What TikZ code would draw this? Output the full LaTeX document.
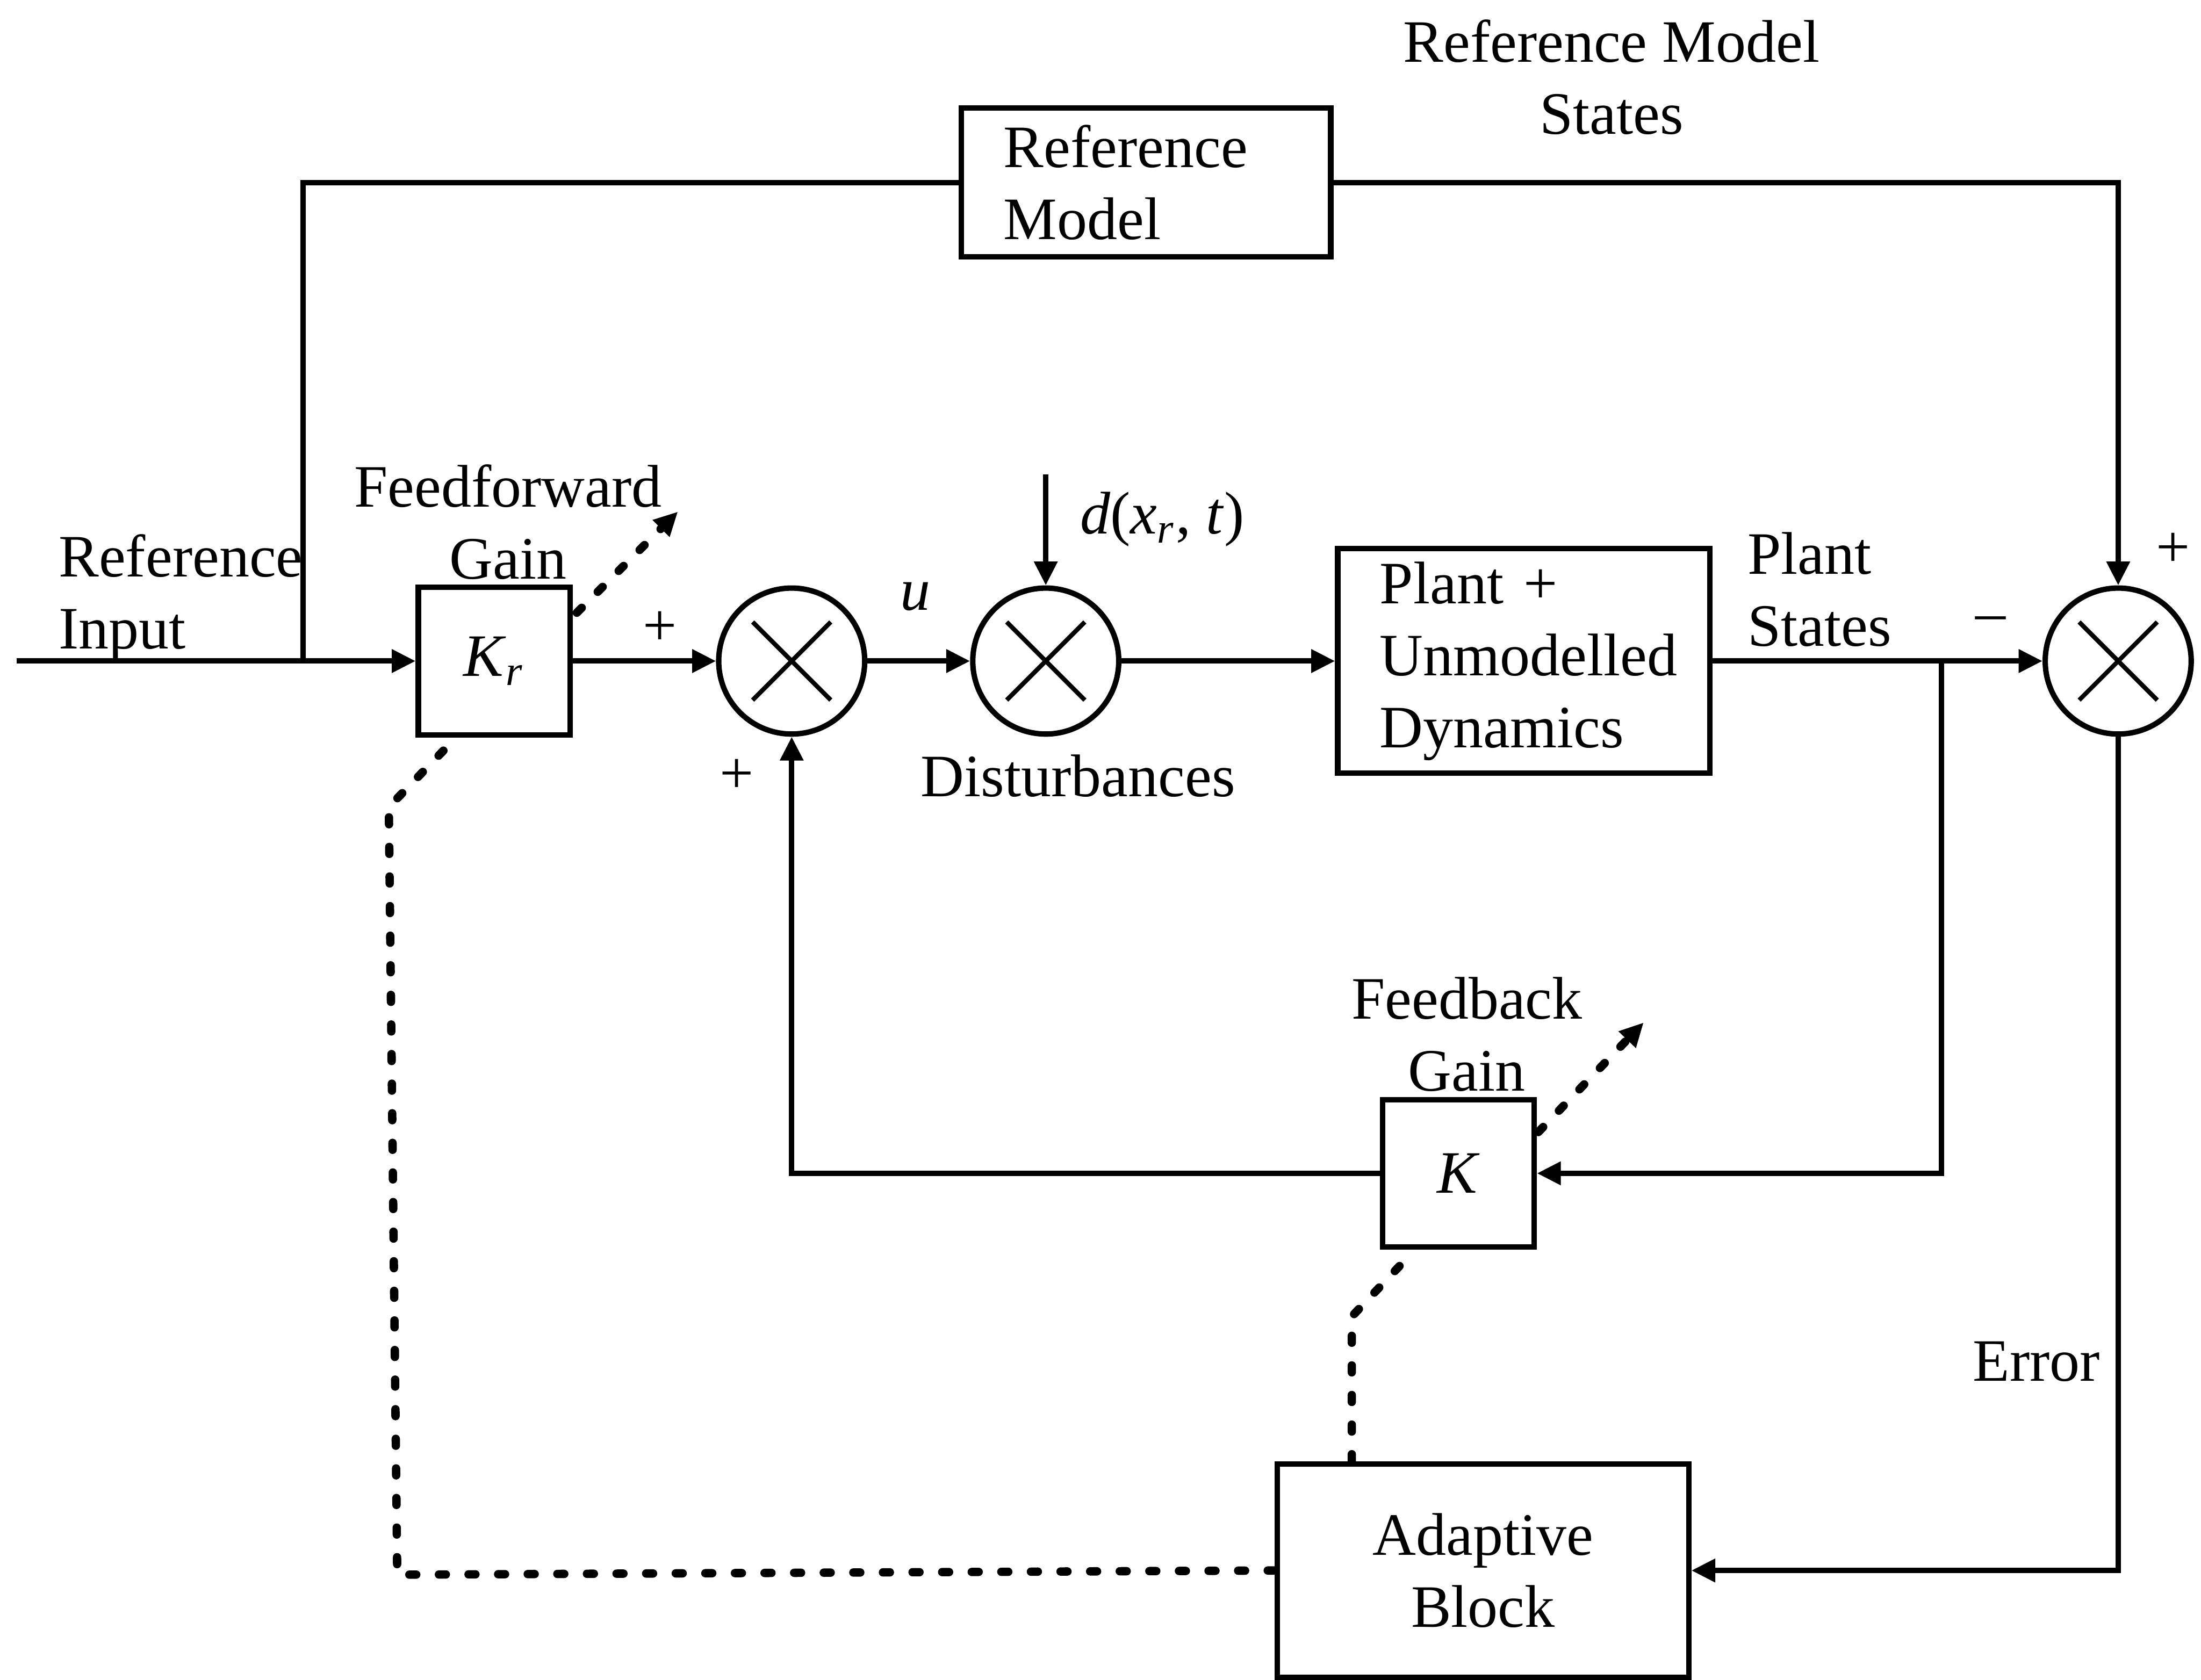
\documentclass[tikz,border=0pt]{standalone}
\usepackage{fontspec}
\setmainfont{Liberation Serif}
\usetikzlibrary{arrows.meta,calc}

\begin{document}
\begin{tikzpicture}[>={Triangle[length=1.7mm,width=1.6mm]}, line width=1.1pt,
    font=\fontsize{12.2}{14.6}\selectfont,
    block/.style={draw, line width=1.1pt, inner sep=0pt},
    sum/.style={draw, circle, line width=1.1pt, minimum size=1.04cm, inner sep=0pt},
    tune/.style={line width=1.7pt, dash pattern=on 1.4pt off 4.6pt, line cap=round},
    lbl/.style={inner sep=0pt}]
    \useasboundingbox (0,0) rectangle (15.68,-11.97);

    % blocks
    \node[block, minimum width=2.63cm, minimum height=1.06cm, text width=2.03cm, align=left] (refm) at (8.165,-1.30) {Reference\\Model};
    \node[block, minimum width=1.08cm, minimum height=1.05cm] (kr) at (3.52,-4.71) {\textit{K}\textsubscript{\textit{r}}};
    \node[block, minimum width=2.65cm, minimum height=1.60cm, text width=2.05cm, align=left] (plant) at (10.855,-4.71) {Plant +\\Unmodelled\\Dynamics};
    \node[block, minimum width=1.08cm, minimum height=1.05cm] (k) at (10.39,-8.36) {\textit{K}};
    \node[block, minimum width=2.93cm, minimum height=1.52cm, align=center] (adapt) at (10.565,-11.19) {Adaptive\\Block};

    % summing junctions
    \node[sum] (s1) at (5.64,-4.71) {};
    \node[sum] (s2) at (7.45,-4.71) {};
    \node[sum] (s3) at (15.09,-4.71) {};
    \foreach \s in {s1,s2,s3} {
        \draw[line width=0.9pt] ($(\s.center)!0.73!(\s.north west)$) -- ($(\s.center)!0.73!(\s.south east)$);
        \draw[line width=0.9pt] ($(\s.center)!0.73!(\s.north east)$) -- ($(\s.center)!0.73!(\s.south west)$);
    }

    % free ends and branch points
    \coordinate (in) at (0.12,-4.71);
    \coordinate (br) at (2.16,-4.71);
    \coordinate (dist) at (7.45,-3.38);
    \coordinate (pb) at (13.83,-4.71);

    % signal lines
    \draw[->] (in) -- (kr.west);
    \draw (br) |- (refm.west);
    \draw[->] (refm.east) -| (s3.north);
    \draw[->] (kr.east) -- (s1.west);
    \draw[->] (s1.east) -- (s2.west);
    \draw[->] (dist) -- (s2.north);
    \draw[->] (s2.east) -- (plant.west);
    \draw[->] (plant.east) -- (s3.west);
    \draw[->] (pb) |- (k.east);
    \draw[->] (k.west) -| (s1.south);
    \draw[->] (s3.south) |- (adapt.east);

    % adaptation paths
    \draw[tune] ([xshift=-0.935cm]adapt.north) -- ++(0,1.03) -- ([xshift=-0.31cm]k.south);
    \draw[tune] (adapt.west) -- (2.83,-11.22) -- (2.77,-5.75) -- ([xshift=-0.27cm]kr.south);
    \draw[tune, ->] ([shift={(0.03,-0.2)}]kr.north east) -- ++(0.72,0.72);
    \draw[tune, ->] ([shift={(0.01,-0.25)}]k.north east) -- ++(0.75,0.78);

    % labels
    \node[lbl, align=center] (rmstates) at (11.48,-0.55) {Reference Model\\States};
    \node[lbl, anchor=west, align=left] (refin) at (0.40,-4.26) {Reference\\Input};
    \node[lbl, align=center] (ffgain) at (3.62,-3.72) {Feedforward\\Gain};
    \node[lbl] (p1) at (4.70,-4.48) {+};
    \node[lbl] (p2) at (5.25,-5.53) {+};
    \node[lbl] (ulbl) at (6.52,-4.25) {\textit{u}};
    \node[lbl] (dlbl) at (8.28,-3.70) {\textit{d}(\textit{x}\textsubscript{\textit{r}}, \textit{t})};
    \node[lbl] (distlbl) at (7.68,-5.53) {Disturbances};
    \node[lbl, anchor=west, align=left] (pstates) at (12.43,-4.20) {Plant\\States};
    \node[lbl] (m3) at (14.18,-4.45) {\textendash};
    \node[lbl] (p3) at (15.48,-3.92) {+};
    \node[lbl, align=center] (fbgain) at (10.45,-7.37) {Feedback\\Gain};
    \node[lbl, anchor=east] (errlbl) at (14.98,-9.70) {Error};
\end{tikzpicture}
\end{document}
